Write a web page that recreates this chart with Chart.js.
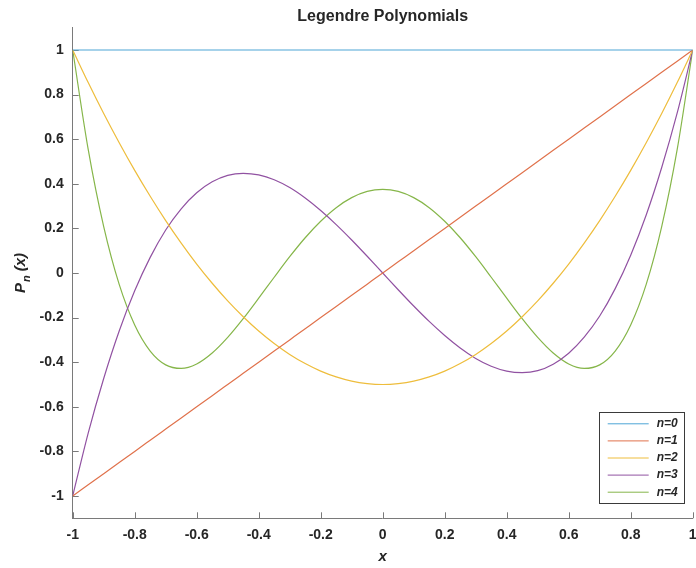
<!DOCTYPE html>
<html>
<head>
<meta charset="utf-8">
<script src="https://cdn.jsdelivr.net/npm/chart.js@4/dist/chart.umd.min.js"></script>
<style>
  html, body { margin: 0; padding: 0; background: #ffffff; }
  #c { display: block; }
</style>
</head>
<body>
<canvas id="c" width="696" height="568"></canvas>
<script>
// Sample positions along x
const xValues = [-1, -0.95, -0.9, -0.85, -0.8, -0.75, -0.7, -0.65, -0.6, -0.55, -0.5,
  -0.45, -0.4, -0.35, -0.3, -0.25, -0.2, -0.15, -0.1, -0.05, 0,
  0.05, 0.1, 0.15, 0.2, 0.25, 0.3, 0.35, 0.4, 0.45, 0.5,
  0.55, 0.6, 0.65, 0.7, 0.75, 0.8, 0.85, 0.9, 0.95, 1];

// P_n(x) values for each degree
const p0 = [1, 1, 1, 1, 1, 1, 1, 1, 1, 1, 1,
  1, 1, 1, 1, 1, 1, 1, 1, 1, 1,
  1, 1, 1, 1, 1, 1, 1, 1, 1, 1,
  1, 1, 1, 1, 1, 1, 1, 1, 1, 1];
const p1 = [-1, -0.95, -0.9, -0.85, -0.8, -0.75, -0.7, -0.65, -0.6, -0.55, -0.5,
  -0.45, -0.4, -0.35, -0.3, -0.25, -0.2, -0.15, -0.1, -0.05, 0,
  0.05, 0.1, 0.15, 0.2, 0.25, 0.3, 0.35, 0.4, 0.45, 0.5,
  0.55, 0.6, 0.65, 0.7, 0.75, 0.8, 0.85, 0.9, 0.95, 1];
const p2 = [1, 0.854, 0.715, 0.584, 0.46, 0.344, 0.235, 0.134, 0.04, -0.046, -0.125,
  -0.196, -0.26, -0.316, -0.365, -0.406, -0.44, -0.466, -0.485, -0.496, -0.5,
  -0.496, -0.485, -0.466, -0.44, -0.406, -0.365, -0.316, -0.26, -0.196, -0.125,
  -0.046, 0.04, 0.134, 0.235, 0.344, 0.46, 0.584, 0.715, 0.854, 1];
const p3 = [-1, -0.718, -0.473, -0.26, -0.08, 0.07, 0.193, 0.288, 0.36, 0.409, 0.438,
  0.447, 0.44, 0.418, 0.383, 0.336, 0.28, 0.217, 0.148, 0.075, 0,
  -0.075, -0.148, -0.217, -0.28, -0.336, -0.383, -0.418, -0.44, -0.447, -0.438,
  -0.409, -0.36, -0.288, -0.193, -0.07, 0.08, 0.26, 0.473, 0.718, 1];
const p4 = [1, 0.554, 0.208, -0.051, -0.233, -0.35, -0.412, -0.428, -0.408, -0.359, -0.289,
  -0.205, -0.113, -0.019, 0.073, 0.158, 0.232, 0.293, 0.338, 0.366, 0.375,
  0.366, 0.338, 0.293, 0.232, 0.158, 0.073, -0.019, -0.113, -0.205, -0.289,
  -0.359, -0.408, -0.428, -0.412, -0.35, -0.233, -0.051, 0.208, 0.554, 1];

const seriesNames = ['n=0', 'n=1', 'n=2', 'n=3', 'n=4'];
const xTicks = [-1, -0.8, -0.6, -0.4, -0.2, 0, 0.2, 0.4, 0.6, 0.8, 1];
const yTicks = [-1, -0.8, -0.6, -0.4, -0.2, 0, 0.2, 0.4, 0.6, 0.8, 1];

const titleText = 'Legendre Polynomials';
const xTitle = 'x';

const colors = ['#4ea5d6', '#e0724c', '#eebd3c', '#9152a2', '#86b64a'];
const axisColor = '#7a7a7a';
const textColor = '#262626';
const FONT = '"Liberation Sans", Arial, Helvetica, sans-serif';

const series = [p0, p1, p2, p3, p4];
const datasets = series.map((vals, i) => ({
  label: seriesNames[i],
  data: xValues.map((x, k) => ({ x: x, y: vals[k] })),
  borderColor: colors[i],
  backgroundColor: colors[i],
  borderWidth: 1.2,
  pointRadius: 0,
  fill: false,
  cubicInterpolationMode: 'monotone'
}));

const fmt = v => String(Number(Number(v).toFixed(1)));

// Titles, inward tick marks and the legend box
const decor = {
  id: 'decor',
  beforeDatasetsDraw(chart) {
    const ctx = chart.ctx, a = chart.chartArea;
    const xs = chart.scales.x, ys = chart.scales.y;
    ctx.save();
    ctx.strokeStyle = axisColor;
    ctx.lineWidth = 1;
    ctx.beginPath();
    xTicks.forEach(v => {
      const px = Math.round(xs.getPixelForValue(v)) + 0.5;
      ctx.moveTo(px, a.bottom);
      ctx.lineTo(px, a.bottom - 6);
    });
    yTicks.forEach(v => {
      const py = Math.round(ys.getPixelForValue(v)) + 0.5;
      ctx.moveTo(a.left, py);
      ctx.lineTo(a.left + 6, py);
    });
    ctx.stroke();
    ctx.restore();
  },
  afterDraw(chart) {
    const ctx = chart.ctx, a = chart.chartArea;
    const cx = (a.left + a.right) / 2;
    ctx.save();
    ctx.fillStyle = textColor;
    ctx.textAlign = 'center';
    ctx.textBaseline = 'middle';

    // chart title
    ctx.font = 'bold 16px ' + FONT;
    ctx.fillText(titleText, cx, 17);

    // x axis title
    ctx.font = 'italic bold 15px ' + FONT;
    ctx.fillText(xTitle, cx, 557);

    // y axis title with subscript: P_n (x)
    ctx.save();
    ctx.translate(21, (a.top + a.bottom) / 2);
    ctx.rotate(-Math.PI / 2);
    const mainFont = 'italic bold 15px ' + FONT;
    const subFont = 'italic bold 11px ' + FONT;
    ctx.font = mainFont;
    const wP = ctx.measureText('P').width;
    const wRest = ctx.measureText(' (x)').width;
    ctx.font = subFont;
    const wN = ctx.measureText('n').width;
    const total = wP + wN + 1 + wRest;
    let tx = -total / 2;
    ctx.textAlign = 'left';
    ctx.font = mainFont;
    ctx.fillText('P', tx, 0);
    tx += wP + 1;
    ctx.font = subFont;
    ctx.fillText('n', tx, 6);
    tx += wN;
    ctx.font = mainFont;
    ctx.fillText(' (x)', tx, 0);
    ctx.restore();

    // legend
    const bx = a.right - 94, by = a.bottom - 106, bw = 85, bh = 91;
    ctx.fillStyle = '#ffffff';
    ctx.fillRect(bx, by, bw, bh);
    ctx.strokeStyle = '#3a3a3a';
    ctx.lineWidth = 1;
    ctx.strokeRect(Math.round(bx) + 0.5, Math.round(by) + 0.5, bw, bh);
    ctx.font = 'italic bold 12px ' + FONT;
    ctx.textAlign = 'left';
    ctx.textBaseline = 'middle';
    chart.data.datasets.forEach((ds, i) => {
      const ry = by + 11.5 + i * 17.1;
      ctx.strokeStyle = ds.borderColor;
      ctx.lineWidth = 1;
      ctx.beginPath();
      ctx.moveTo(bx + 9, ry);
      ctx.lineTo(bx + 50, ry);
      ctx.stroke();
      ctx.fillStyle = textColor;
      ctx.fillText(ds.label, bx + 58, ry);
    });
    ctx.restore();
  }
};

new Chart(document.getElementById('c'), {
  type: 'line',
  data: { datasets: datasets },
  options: {
    responsive: false,
    animation: false,
    events: [],
    layout: { autoPadding: false, padding: { top: 27.7, right: 3.3, left: 0, bottom: 0 } },
    plugins: {
      legend: { display: false },
      title: { display: false },
      tooltip: { enabled: false }
    },
    scales: {
      x: {
        type: 'linear',
        min: -1,
        max: 1,
        afterBuildTicks: s => { s.ticks = xTicks.map(v => ({ value: v })); },
        afterFit: s => { s.height = 49.7; s.paddingLeft = 0; s.paddingRight = 0; },
        grid: { drawOnChartArea: false, drawTicks: false },
        border: { display: true, color: axisColor, width: 1 },
        ticks: {
          padding: 8,
          color: textColor,
          maxRotation: 0,
          autoSkip: false,
          font: { family: FONT, size: 14, weight: 'bold' },
          callback: v => fmt(v)
        }
      },
      y: {
        type: 'linear',
        min: -1.1,
        max: 1.1,
        afterBuildTicks: s => { s.ticks = yTicks.map(v => ({ value: v })); },
        afterFit: s => { s.width = 72.7; s.paddingTop = 0; s.paddingBottom = 0; },
        grid: { drawOnChartArea: false, drawTicks: false },
        border: { display: true, color: axisColor, width: 1 },
        ticks: {
          padding: 9,
          color: textColor,
          autoSkip: false,
          font: { family: FONT, size: 14, weight: 'bold' },
          callback: v => fmt(v)
        }
      }
    }
  },
  plugins: [decor]
});
</script>
</body>
</html>
